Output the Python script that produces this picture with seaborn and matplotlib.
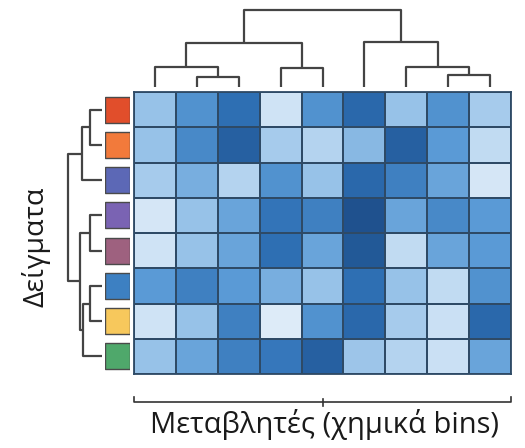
import numpy as np
import pandas as pd
import seaborn as sns
import matplotlib
matplotlib.use("Agg")
import matplotlib.pyplot as plt

# ---- data -------------------------------------------------------------
variables = [f"bin{i + 1}" for i in range(9)]
samples = [f"S{i + 1}" for i in range(8)]

values = [
    [0.30, 0.55, 0.75, 0.10, 0.55, 0.80, 0.30, 0.55, 0.25],
    [0.30, 0.60, 0.85, 0.25, 0.20, 0.35, 0.85, 0.50, 0.15],
    [0.25, 0.40, 0.20, 0.55, 0.30, 0.80, 0.65, 0.45, 0.08],
    [0.08, 0.30, 0.45, 0.72, 0.65, 0.95, 0.45, 0.60, 0.50],
    [0.10, 0.30, 0.45, 0.75, 0.45, 0.90, 0.15, 0.45, 0.50],
    [0.50, 0.65, 0.50, 0.40, 0.30, 0.75, 0.30, 0.15, 0.55],
    [0.10, 0.30, 0.65, 0.05, 0.55, 0.80, 0.25, 0.12, 0.80],
    [0.30, 0.45, 0.65, 0.70, 0.85, 0.28, 0.20, 0.12, 0.45],
]

sample_colors = ["#E14E2B", "#F27A3B", "#5C68B6", "#7A63B3",
                 "#9E617F", "#3D80C2", "#F7C85C", "#4FA86B"]

# linkage tables: (left node, right node, merge height)
col_links = [
    (1, 2, 10), (0, 9, 20), (3, 4, 19), (10, 11, 44),
    (7, 8, 12), (6, 13, 20), (5, 14, 45), (12, 15, 77),
]
row_links = [
    (0, 1, 12), (8, 2, 20), (3, 4, 12), (5, 6, 12),
    (11, 7, 19), (10, 12, 22), (9, 13, 34),
]

x_label = "Μεταβλητές (χημικά bins)"
y_label = "Δείγματα"

# ---- helpers ----------------------------------------------------------
def dendro_segments(links, n_leaves):
    """Return U-shaped link segments (positions, heights) for a linkage."""
    pos = {i: i + 0.5 for i in range(n_leaves)}
    hgt = {i: 0.0 for i in range(n_leaves)}
    segs = []
    for k, (a, b, h) in enumerate(links):
        node = n_leaves + k
        segs.append(([pos[a], pos[a], pos[b], pos[b]],
                     [hgt[a], h, h, hgt[b]]))
        pos[node] = (pos[a] + pos[b]) / 2
        hgt[node] = h
    return segs


W, H = 525, 448
fig = plt.figure(figsize=(W / 100, H / 100), dpi=100)
fig.patch.set_facecolor("white")


def px_axes(x0, y0, x1, y1):
    return fig.add_axes([x0 / W, 1 - y1 / H, (x1 - x0) / W, (y1 - y0) / H])


hm_x0, hm_x1, hm_y0, hm_y1 = 134, 511, 92, 374

# ---- heatmap ----------------------------------------------------------
df = pd.DataFrame(values, index=samples, columns=variables)
cmap = sns.blend_palette(["#EAF2FB", "#A6CBEC", "#5A9AD6", "#2E6FB4", "#1B4A85"],
                         as_cmap=True)
ax = px_axes(hm_x0, hm_y0, hm_x1, hm_y1)
sns.heatmap(df, ax=ax, cmap=cmap, vmin=0, vmax=1, cbar=False,
            linewidths=1.3, linecolor="#2E4A66",
            xticklabels=False, yticklabels=False)
ax.set_xlabel("")
ax.set_ylabel("")
for sp in ax.spines.values():
    sp.set_visible(True)
    sp.set_color("#2E4A66")
    sp.set_linewidth(1.3)

# ---- sample colour strip ---------------------------------------------
axc = px_axes(105, hm_y0, 130, hm_y1)
ypos = np.arange(len(samples)) + 0.5
axc.barh(ypos, [1] * len(samples), left=0, height=0.74,
         color=sample_colors, edgecolor="#4A4A4A", linewidth=1.0)
axc.set_xlim(0, 1)
axc.set_ylim(len(samples), 0)
axc.axis("off")

# ---- column dendrogram -----------------------------------------------
axt = px_axes(hm_x0, 5, hm_x1, 87)
for xs, ys in dendro_segments(col_links, len(variables)):
    axt.plot(xs, ys, color="#444444", lw=1.6, solid_capstyle="butt")
axt.set_xlim(0, len(variables))
axt.set_ylim(0, 82)
axt.axis("off")

# ---- row dendrogram --------------------------------------------------
axl = px_axes(60, hm_y0, 102, hm_y1)
for ys, xs in dendro_segments(row_links, len(samples)):
    axl.plot(xs, ys, color="#444444", lw=1.6, solid_capstyle="butt")
axl.set_xlim(42, 0)
axl.set_ylim(len(samples), 0)
axl.axis("off")

# ---- bracket under the columns + axis titles -------------------------
tr = ax.transAxes
brk_y = -0.10
ax.plot([0, 0, 1, 1], [brk_y + 0.02, brk_y, brk_y, brk_y + 0.02],
        transform=tr, color="#333333", lw=1.2, clip_on=False)
ax.plot([0.5, 0.5], [brk_y - 0.012, brk_y + 0.012],
        transform=tr, color="#333333", lw=1.2, clip_on=False)

fig.text(325 / W, 1 - 424 / H, x_label, ha="center", va="center",
         fontsize=21, family=["Open Sans", "DejaVu Sans"], color="#1A1A1A")
fig.text(36 / W, 1 - 247 / H, y_label, ha="center", va="center",
         rotation=90, fontsize=20.5, family=["Open Sans", "DejaVu Sans"],
         color="#1A1A1A")

fig.savefig("out.png", dpi=100, facecolor="white")
